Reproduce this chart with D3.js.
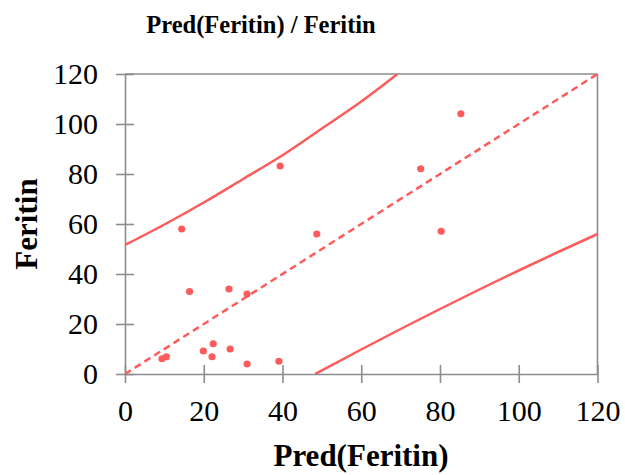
<!DOCTYPE html>
<html><head><meta charset="utf-8">
<script src="https://cdn.jsdelivr.net/npm/d3@7"></script>
<style>body{margin:0;background:#fff}svg{display:block}</style>
</head><body>
<svg id="c" width="625" height="475"></svg>
<script>
const predX = [14.4, 48.7, 16.4, 26.4, 31.0, 9.4, 10.5, 19.9, 22.4, 22.1, 26.7, 31.0, 39.1, 39.4, 85.3, 75.1, 80.3];
const actualY = [58, 56, 33, 34, 32, 6.1, 6.9, 9.2, 12.1, 6.9, 10, 4, 5.1, 83.2, 104.1, 82.1, 57.1];
const upperX = [0, 10, 20, 30, 40, 50, 60, 69.2];
const upperY = [51.6, 59.8, 68.6, 78, 87.5, 98.2, 109, 120];
const lowerX = [48.3, 60, 70, 80, 90, 100, 110, 120];
const lowerY = [0, 9.8, 18, 26, 33.8, 41.4, 48.8, 56];
const ticks = [0, 20, 40, 60, 80, 100, 120];
const title = "Pred(Feritin) / Feritin";
const xTitle = "Pred(Feritin)";
const yTitle = "Feritin";

const svg = d3.select("#c");
const x = d3.scaleLinear().domain([0, 120]).range([125, 597.5]);
const y = d3.scaleLinear().domain([0, 120]).range([374, 74]);
const red = "#ff5b5b", gray = "#8c8c8c";
const font = "'Liberation Serif','Times New Roman',serif";

svg.append("line").attr("x1", x(0)).attr("x2", x(120)).attr("y1", y(120)).attr("y2", y(120)).attr("stroke", gray).attr("stroke-width", 1.6);
svg.append("line").attr("x1", x(120)).attr("x2", x(120)).attr("y1", y(0)).attr("y2", y(120)).attr("stroke", gray).attr("stroke-width", 1.6);

const xAxis = svg.append("g").attr("transform", `translate(0,${y(0)})`)
  .call(d3.axisBottom(x).tickValues(ticks).tickSizeInner(9).tickSizeOuter(0).tickPadding(17));
const yAxis = svg.append("g").attr("transform", `translate(${x(0)},0)`)
  .call(d3.axisLeft(y).tickValues(ticks).tickSizeInner(9).tickSizeOuter(0).tickPadding(18));
[xAxis, yAxis].forEach(g => {
  g.select(".domain").attr("stroke", gray).attr("stroke-width", 1.6);
  g.selectAll(".tick line").attr("stroke", gray).attr("stroke-width", 1.6);
  g.selectAll(".tick text").attr("fill", "#000").style("font-family", font).style("font-size", "30px");
});
xAxis.selectAll(".tick line").attr("y1", -9).attr("y2", 9);
yAxis.selectAll(".tick line").attr("x1", 9).attr("x2", -9);

svg.append("clipPath").attr("id", "pc").append("rect")
  .attr("x", x(0)).attr("y", y(120)).attr("width", x(120) - x(0)).attr("height", y(0) - y(120));
const plot = svg.append("g").attr("clip-path", "url(#pc)");

const line = d3.line().x(d => x(d[0])).y(d => y(d[1])).curve(d3.curveMonotoneX);
plot.append("path").datum([[0, 0], [120, 120]]).attr("d", line).attr("fill", "none")
  .attr("stroke", red).attr("stroke-width", 2.5).attr("stroke-dasharray", "7,4.5");
plot.append("path").datum(upperX.map((v, i) => [v, upperY[i]])).attr("d", line).attr("fill", "none")
  .attr("stroke", red).attr("stroke-width", 2.5);
plot.append("path").datum(lowerX.map((v, i) => [v, lowerY[i]])).attr("d", line).attr("fill", "none")
  .attr("stroke", red).attr("stroke-width", 2.5);

svg.append("g").selectAll("circle").data(predX.map((v, i) => [v, actualY[i]])).join("circle")
  .attr("cx", d => x(d[0])).attr("cy", d => y(d[1])).attr("r", 3.6).attr("fill", red);

svg.append("text").attr("x", 261).attr("y", 33).attr("text-anchor", "middle")
  .style("font-family", font).style("font-weight", "bold").style("font-size", "24.5px").text(title);
svg.append("text").attr("x", 361).attr("y", 466).attr("text-anchor", "middle")
  .style("font-family", font).style("font-weight", "bold").style("font-size", "31px").text(xTitle);
svg.append("text").attr("transform", "translate(37,224) rotate(-90)").attr("text-anchor", "middle")
  .style("font-family", font).style("font-weight", "bold").style("font-size", "31px").text(yTitle);
</script>
</body></html>
